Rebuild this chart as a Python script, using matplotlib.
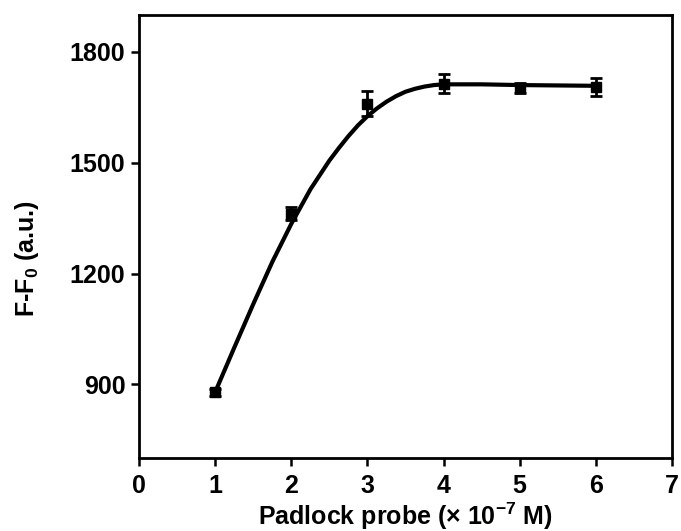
import matplotlib
matplotlib.use("Agg")
import matplotlib.pyplot as plt

probe_conc = [1, 2, 3, 4, 5, 6]
signal = [878, 1362, 1660, 1714, 1702, 1705]
signal_err = [10, 18, 33, 26, 14, 25]

# Fitted curve
fit_x = [1.0, 1.25, 1.5, 1.75, 2.0, 2.25, 2.5, 2.625, 2.75, 2.875, 3.0, 3.125,
         3.25, 3.375, 3.5, 3.625, 3.75, 3.875, 4.0, 4.5, 5.0, 5.5, 6.0]
fit_y = [880, 1000, 1118, 1232, 1335, 1428, 1506, 1540, 1572, 1601, 1626, 1647,
         1665, 1680, 1692, 1700, 1706, 1710, 1712, 1712, 1710, 1709, 1708]

x_ticks = [0, 1, 2, 3, 4, 5, 6, 7]
y_ticks = [900, 1200, 1500, 1800]

plt.rcParams["font.family"] = ["Liberation Sans", "DejaVu Sans"]
plt.rcParams["font.weight"] = "bold"
plt.rcParams["mathtext.fontset"] = "custom"
plt.rcParams["mathtext.rm"] = "Liberation Sans:bold"
plt.rcParams["mathtext.bf"] = "Liberation Sans:bold"
plt.rcParams["mathtext.it"] = "Liberation Sans:bold"

fig = plt.figure(figsize=(6.81, 5.31), dpi=100)
ax = fig.add_axes([0.2045, 0.137, 0.782, 0.835])

ax.plot(fit_x, fit_y, color="black", linewidth=3.0, solid_capstyle="round",
        solid_joinstyle="round", zorder=2)
ax.errorbar(probe_conc, signal, yerr=signal_err, fmt="s", color="black",
            markersize=7, elinewidth=2.0, capsize=4, capthick=2.0, zorder=3)

ax.set_xlim(0, 7)
ax.set_ylim(700, 1900)
ax.set_xticks(x_ticks)
ax.set_yticks(y_ticks)
ax.tick_params(direction="out", length=6, width=1.8, labelsize=18, pad=4)
ax.tick_params(axis="x", pad=5)
for side in ax.spines.values():
    side.set_linewidth(2.0)

ax.set_xlabel(r"Padlock probe ($\times$ 10$^{-7}$ M)", fontsize=18, fontweight="bold", labelpad=2)
ax.set_ylabel(r"F-F$_0$ (a.u.)", fontsize=18, fontweight="bold")
# label sits a little lower and further left than the default position
ax.yaxis.set_label_coords(-0.185, 0.45)

fig.savefig("out.png", dpi=100)
